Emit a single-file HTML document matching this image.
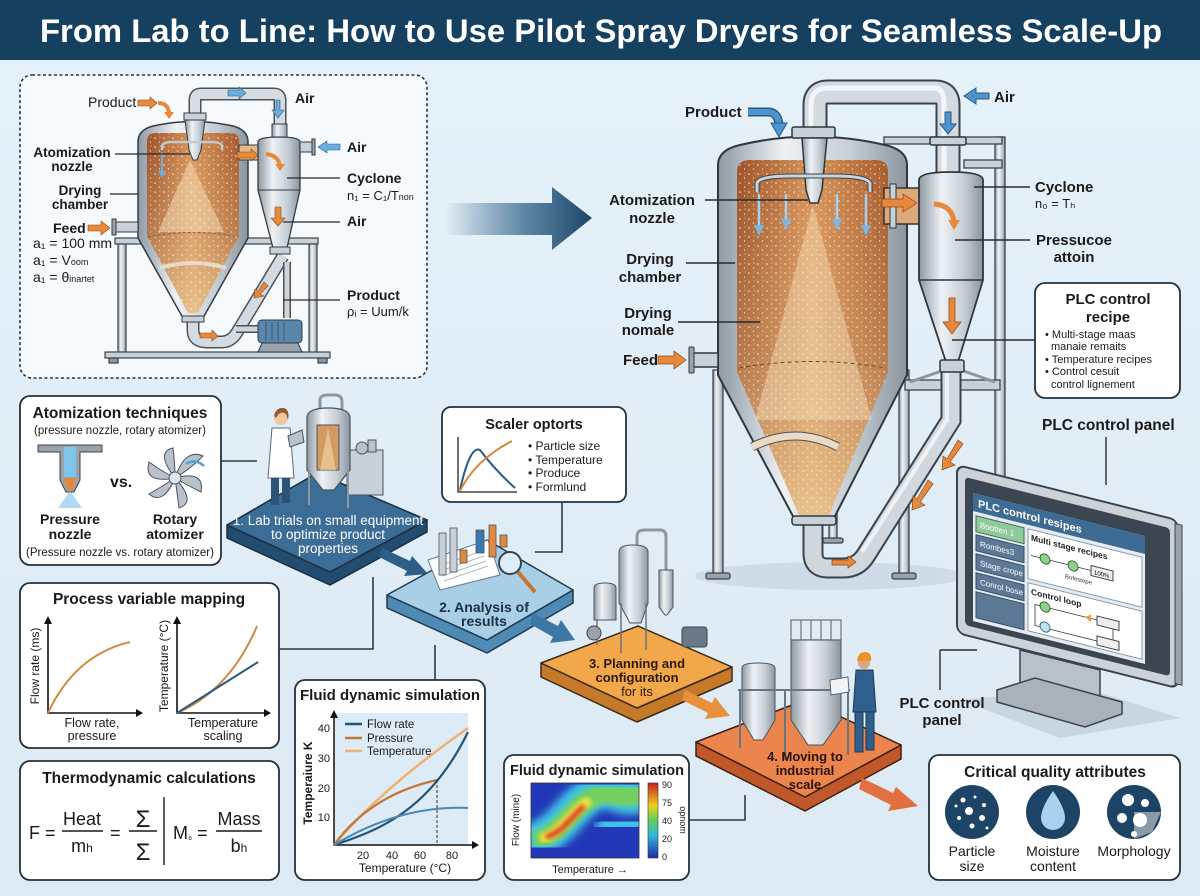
<!DOCTYPE html>
<html><head><meta charset="utf-8"><style>
html,body{margin:0;padding:0;background:#e3f0f8;}
svg{display:block;font-family:"Liberation Sans",Arial,sans-serif;}
</style></head><body>
<svg width="1200" height="896" viewBox="0 0 1200 896" xmlns="http://www.w3.org/2000/svg">
<defs>
 <linearGradient id="bg" x1="0" y1="0" x2="0" y2="1"><stop offset="0" stop-color="#e6f2fa"/><stop offset="1" stop-color="#dde9f3"/></linearGradient>
 <linearGradient id="metal" x1="0" y1="0" x2="1" y2="0"><stop offset="0" stop-color="#8e99a3"/><stop offset="0.35" stop-color="#eef2f5"/><stop offset="0.7" stop-color="#c6ced5"/><stop offset="1" stop-color="#8b959e"/></linearGradient>
 <linearGradient id="orng" x1="0" y1="0" x2="1" y2="0"><stop offset="0" stop-color="#9c522a"/><stop offset="0.5" stop-color="#d8955a"/><stop offset="1" stop-color="#a65a2c"/></linearGradient>
 <linearGradient id="sandV" x1="0" y1="0" x2="0" y2="1"><stop offset="0" stop-color="#f2d5a8" stop-opacity="0"/><stop offset="0.55" stop-color="#eccb98" stop-opacity="0.3"/><stop offset="1" stop-color="#f0d4a4" stop-opacity="0.7"/></linearGradient>
 <linearGradient id="bigArrow" x1="0" y1="0" x2="1" y2="0"><stop offset="0" stop-color="#2a5a80" stop-opacity="0"/><stop offset="0.55" stop-color="#3a6a90" stop-opacity="0.8"/><stop offset="1" stop-color="#1b4566"/></linearGradient>
 <linearGradient id="cbar" x1="0" y1="0" x2="0" y2="1"><stop offset="0" stop-color="#c81e1e"/><stop offset="0.3" stop-color="#f0d020"/><stop offset="0.5" stop-color="#5ecf5a"/><stop offset="0.7" stop-color="#30b8e0"/><stop offset="1" stop-color="#1c2aa8"/></linearGradient>
 <pattern id="dots" width="9" height="9" patternUnits="userSpaceOnUse"><circle cx="2" cy="3" r="0.8" fill="#fbe8c8"/><circle cx="6.5" cy="7" r="0.6" fill="#fff3dd"/><circle cx="7" cy="2" r="0.5" fill="#f7dcb0"/></pattern>
 <filter id="blur4"><feGaussianBlur stdDeviation="4"/></filter>
 <filter id="blur2"><feGaussianBlur stdDeviation="2"/></filter>
 <clipPath id="hm"><rect x="531" y="783" width="108" height="75"/></clipPath>
</defs>

<rect width="1200" height="896" fill="url(#bg)"/>
<!-- TITLE -->
<rect width="1200" height="60" fill="#15405f"/>
<text x="601" y="42" text-anchor="middle" font-size="32" font-weight="bold" fill="#ffffff" textLength="1122" lengthAdjust="spacingAndGlyphs">From Lab to Line: How to Use Pilot Spray Dryers for Seamless Scale-Up</text>

<!-- TOP-LEFT BOX -->
<rect x="20" y="75" width="407" height="303" rx="12" fill="#f6fafd" stroke="#2b3440" stroke-width="1.6" stroke-dasharray="3 2.5"/>
<g stroke="#3a434c" stroke-width="1.2">
 <rect x="115" y="238" width="203" height="6" fill="#c9d1d8"/>
 <rect x="118" y="244" width="8" height="109" fill="url(#metal)"/>
 <rect x="309" y="244" width="8" height="109" fill="url(#metal)"/>
 <rect x="105" y="352" width="225" height="6" fill="#c9d1d8"/>
 <rect x="109" y="358" width="9" height="5" fill="#8d979f"/>
 <rect x="318" y="358" width="9" height="5" fill="#8d979f"/>
</g>
<!-- small pipes -->
<path d="M195 116 L195 100 Q195 94 201 94 L274 94 Q280 94 280 100 L280 127" fill="none" stroke="#4a535c" stroke-width="13"/>
<path d="M195 116 L195 100 Q195 94 201 94 L274 94 Q280 94 280 100 L280 127" fill="none" stroke="#d5dce2" stroke-width="10"/>
<path d="M193 320 L193 330 Q193 342 207 342 L222 342 Q230 342 236 334 L283 256" fill="none" stroke="#4a535c" stroke-width="13"/>
<path d="M193 320 L193 330 Q193 342 207 342 L222 342 Q230 342 236 334 L283 256" fill="none" stroke="#d3dae0" stroke-width="10"/>
<path d="M236 329 L262 329" stroke="#4a535c" stroke-width="8"/><path d="M236 329 L262 329" stroke="#cdd4da" stroke-width="5"/>
<path d="M287 318 L287 262" stroke="#4a535c" stroke-width="8"/><path d="M287 318 L287 262" stroke="#cdd4da" stroke-width="5"/>
<!-- small chamber -->
<path d="M138 142 Q138 128 158 125 Q193 118 228 125 Q248 128 248 142 L248 238 L203 318 L183 318 L138 238 Z" fill="url(#metal)" stroke="#333c45" stroke-width="1.5"/>
<path d="M147 141 Q147 133 156 133 L230 133 Q239 133 239 141 L239 236 L198 313 L188 313 L147 236 Z" fill="url(#orng)"/>
<path d="M147 141 Q147 133 156 133 L230 133 Q239 133 239 141 L239 236 L198 313 L188 313 L147 236 Z" fill="url(#sandV)"/>
<polygon points="190,160 158,232 224,232" fill="#fbe6c4" opacity="0.45"/>
<path d="M147 141 Q147 133 156 133 L230 133 Q239 133 239 141 L239 236 L198 313 L188 313 L147 236 Z" fill="url(#dots)"/>
<path d="M148 237 Q193 228 238 237" fill="none" stroke="#7a5535" stroke-width="0.8" stroke-dasharray="3 2"/>
<path d="M160 268 Q193 258 226 268" fill="none" stroke="#e6dccb" stroke-width="4"/>
<rect x="182" y="316" width="22" height="6" fill="#c9d1d8" stroke="#333c45"/>
<rect x="184" y="113" width="22" height="7" fill="#c9d1d8" stroke="#333c45"/>
<polygon points="185,120 205,120 201,150 197,160 193,160 189,150" fill="url(#metal)" stroke="#333c45"/>
<path d="M162 150 L162 146 Q163 142 172 142 L212 142 Q221 142 222 146 L222 150" fill="none" stroke="#c2cad1" stroke-width="2.5"/>
<line x1="162" y1="152" x2="162" y2="172" stroke="#6aaee0" stroke-width="2"/><polygon points="158,171 166,171 162,178" fill="#6aaee0"/>
<!-- small duct + cyclone -->
<rect x="239" y="145" width="24" height="15" fill="#e3b98a" stroke="#333c45"/>
<rect x="272" y="124" width="15" height="15" fill="url(#metal)" stroke="#333c45"/>
<path d="M258 142 Q258 137 279 137 Q300 137 300 142 L300 190 L287 248 L273 248 L258 190 Z" fill="url(#metal)" stroke="#333c45" stroke-width="1.3"/>
<line x1="258" y1="190" x2="300" y2="190" stroke="#333c45"/>
<rect x="270" y="247" width="20" height="7" fill="#c9d1d8" stroke="#333c45"/>
<rect x="300" y="142" width="12" height="10" fill="#c9d1d8" stroke="#333c45"/><rect x="312" y="139" width="3" height="16" fill="#9aa3ab" stroke="#333c45"/>
<!-- pump -->
<rect x="258" y="320" width="44" height="23" rx="4" fill="#5b86ab" stroke="#2b3a4a"/>
<g stroke="#38597a" stroke-width="1"><line x1="266" y1="322" x2="266" y2="341"/><line x1="272" y1="322" x2="272" y2="341"/><line x1="278" y1="322" x2="278" y2="341"/><line x1="284" y1="322" x2="284" y2="341"/></g>
<polygon points="262,343 298,343 302,352 258,352" fill="#9aa3ab" stroke="#333c45"/>
<!-- small arrows -->
<g fill="#e8883a" stroke="#8a4a1a" stroke-width="0.6">
 <polygon points="138,100 150,100 150,97 157,103 150,109 150,106 138,106"/>
 <polygon points="237,152 251,152 251,149 258,155 251,161 251,158 237,158"/>
 <polygon points="88,225 101,225 101,221 110,228 101,235 101,231 88,231"/>
 <polygon points="275,207 281,207 281,218 285,218 278,226 271,218 275,218"/>
 <polygon points="264,282 268,286 260,294 264,296 254,298 255,289 258,291"/>
 <polygon points="200,333 212,333 212,330 218,336 212,341 212,338 200,338"/>
</g>
<path d="M158 103 Q168 103 169 113" fill="none" stroke="#e8883a" stroke-width="4"/><polygon points="164,112 174,112 169,119" fill="#e8883a"/>
<path d="M266 154 Q278 155 280 166" fill="none" stroke="#e8883a" stroke-width="4"/><polygon points="275,164 285,164 280,171" fill="#e8883a"/>
<g fill="#6aaee0" stroke="#2b5a80" stroke-width="0.6">
 <polygon points="228,90 239,90 239,87 246,93 239,99 239,96 228,96"/>
 <polygon points="340,144 327,144 327,141 318,147 327,153 327,150 340,150"/>
 <polygon points="276,100 280,100 280,110 284,110 278,118 272,110 276,110"/>
</g>
<!-- small labels -->
<g fill="#1a1a1a" font-size="14">
 <text x="88" y="107">Product</text>
 <text x="295" y="103" font-weight="bold">Air</text>
 <text x="72" y="157" font-weight="bold" text-anchor="middle" font-size="13.5">Atomization</text>
 <text x="72" y="171" font-weight="bold" text-anchor="middle" font-size="13.5">nozzle</text>
 <text x="80" y="195" font-weight="bold" text-anchor="middle" font-size="13.5">Drying</text>
 <text x="80" y="209" font-weight="bold" text-anchor="middle" font-size="13.5">chamber</text>
 <text x="53" y="233" font-weight="bold">Feed</text>
 <text x="33" y="248">a₁ = 100 mm</text>
 <text x="33" y="265">a₁ = V<tspan font-size="9">oom</tspan></text>
 <text x="33" y="282">a₁ = θ<tspan font-size="9">inartet</tspan></text>
 <text x="347" y="152" font-weight="bold">Air</text>
 <text x="347" y="183" font-weight="bold">Cyclone</text>
 <text x="347" y="200" font-size="13">n₁ = C₁/T<tspan font-size="9">non</tspan></text>
 <text x="347" y="226" font-weight="bold">Air</text>
 <text x="347" y="300" font-weight="bold">Product</text>
 <text x="347" y="316" font-size="13">ρᵢ = Uum/k</text>
</g>
<g stroke="#2a2a2a" stroke-width="1.3">
 <line x1="115" y1="154" x2="190" y2="154"/>
 <line x1="110" y1="194" x2="138" y2="194"/>
 <line x1="287" y1="178" x2="340" y2="178"/>
 <line x1="283" y1="222" x2="340" y2="222"/>
 <line x1="283" y1="300" x2="340" y2="300"/>
</g>
<rect x="115" y="222" width="23" height="10" fill="#c9d1d8" stroke="#333c45"/><rect x="112" y="219" width="4" height="16" fill="#9aa3ab" stroke="#333c45"/>

<!-- BIG ARROW -->
<polygon points="445,203 552,203 552,187 592,218 552,250 552,235 445,235" fill="url(#bigArrow)"/>

<!-- BIG DRYER -->
<ellipse cx="830" cy="576" rx="135" ry="14" fill="#cddce8"/>
<g stroke="#3a434c" stroke-width="1.3">
 <rect x="713" y="370" width="10" height="206" fill="url(#metal)"/>
 <rect x="899" y="370" width="10" height="206" fill="url(#metal)"/>
 <rect x="995" y="137" width="10" height="439" fill="url(#metal)"/>
 <rect x="829" y="495" width="8" height="45" fill="url(#metal)"/>
 <rect x="884" y="137" width="118" height="7" fill="#c9d1d8"/>
 <rect x="964" y="160" width="38" height="8" fill="#c9d1d8"/>
 <rect x="905" y="380" width="95" height="10" fill="#c9d1d8"/>
 <rect x="706" y="573" width="24" height="6" rx="2" fill="#9aa3ab"/>
 <rect x="892" y="573" width="24" height="6" rx="2" fill="#9aa3ab"/>
 <rect x="988" y="573" width="24" height="6" rx="2" fill="#9aa3ab"/>
 <rect x="823" y="538" width="20" height="5" rx="2" fill="#9aa3ab"/>
</g>
<line x1="910" y1="382" x2="950" y2="368" stroke="#8d979f" stroke-width="3"/>
<line x1="995" y1="382" x2="955" y2="368" stroke="#8d979f" stroke-width="3"/>
<!-- big pipes -->
<path d="M815 130 L815 105 Q815 92 828 92 L935 92 Q948 92 948 105 L948 172" fill="none" stroke="#3a434c" stroke-width="25"/>
<path d="M815 130 L815 105 Q815 92 828 92 L935 92 Q948 92 948 105 L948 172" fill="none" stroke="#d3dae0" stroke-width="21"/>
<path d="M811 130 L811 105 Q811 88 828 88 L935 88 Q944 88 944 105 L944 172" fill="none" stroke="#f3f6f8" stroke-width="5"/>
<path d="M951 372 L951 420 L866 555 Q858 568 843 568 L828 568 Q813 568 813 553 L813 520" fill="none" stroke="#3a434c" stroke-width="21"/>
<path d="M951 372 L951 420 L866 555 Q858 568 843 568 L828 568 Q813 568 813 553 L813 520" fill="none" stroke="#d0d7dd" stroke-width="17"/>
<path d="M947 372 L947 420 L862 552" fill="none" stroke="#eef2f5" stroke-width="4"/>
<!-- chamber -->
<path d="M718 165 Q718 150 740 145 Q812 128 885 145 Q907 150 907 165 L907 375 L833 520 L795 520 L718 375 Z" fill="url(#metal)" stroke="#2e363e" stroke-width="2"/>
<path d="M737 172 Q737 160 750 160 L876 160 Q888 160 888 172 L888 372 L829 515 L799 515 L737 372 Z" fill="url(#orng)"/>
<path d="M737 172 Q737 160 750 160 L876 160 Q888 160 888 172 L888 372 L829 515 L799 515 L737 372 Z" fill="url(#sandV)"/>
<polygon points="813,205 755,420 872,420" fill="#fbe6c4" opacity="0.4"/>
<path d="M737 172 Q737 160 750 160 L876 160 Q888 160 888 172 L888 372 L829 515 L799 515 L737 372 Z" fill="url(#dots)"/>
<path d="M739 368 Q812 355 886 368" fill="none" stroke="#6a4a30" stroke-width="1" stroke-dasharray="4 3"/>
<path d="M752 447 Q795 425 838 447" fill="none" stroke="#5a5048" stroke-width="9"/>
<path d="M752 447 Q795 425 838 447" fill="none" stroke="#e8dcc8" stroke-width="7"/>
<rect x="792" y="516" width="44" height="9" rx="3" fill="#c9d1d8" stroke="#2e363e" stroke-width="1.5"/>
<!-- nozzle -->
<rect x="792" y="127" width="43" height="11" rx="2" fill="#c9d1d8" stroke="#2e363e" stroke-width="1.5"/>
<polygon points="802,138 827,138 822,190 818,203 810,203 806,190" fill="url(#metal)" stroke="#2e363e" stroke-width="1.5"/>
<path d="M757 192 L757 183 Q760 176 790 176 L835 176 Q866 176 870 183 L870 192" fill="none" stroke="#3a434c" stroke-width="5"/>
<path d="M757 192 L757 183 Q760 176 790 176 L835 176 Q866 176 870 183 L870 192" fill="none" stroke="#cdd5db" stroke-width="3"/>
<g stroke="#a8d0ec" stroke-width="2.5" fill="#a8d0ec">
 <line x1="759" y1="194" x2="759" y2="226"/><line x1="786" y1="194" x2="786" y2="220"/><line x1="837" y1="194" x2="837" y2="220"/><line x1="866" y1="194" x2="866" y2="226"/>
</g>
<g fill="#7cb6e0"><polygon points="754,225 764,225 759,236"/><polygon points="781,219 791,219 786,230"/><polygon points="832,219 842,219 837,230"/><polygon points="861,225 871,225 866,236"/></g>
<!-- duct + cyclone -->
<rect x="884" y="188" width="50" height="36" fill="#dcaa7a" stroke="#2e363e" stroke-width="1.5"/>
<rect x="890" y="184" width="6" height="44" fill="#c9d1d8" stroke="#2e363e"/>
<rect x="930" y="137" width="36" height="8" rx="2" fill="#c9d1d8" stroke="#2e363e" stroke-width="1.5"/>
<path d="M919 180 Q919 172 951 172 Q983 172 983 180 L983 280 L958 362 L946 362 L919 280 Z" fill="url(#metal)" stroke="#2e363e" stroke-width="1.8"/>
<line x1="919" y1="280" x2="983" y2="280" stroke="#2e363e" stroke-width="1.5"/>
<rect x="940" y="360" width="24" height="12" rx="2" fill="#c9d1d8" stroke="#2e363e" stroke-width="1.5"/>
<!-- big orange arrows -->
<g fill="#e8883a" stroke="#8a4a1a" stroke-width="0.7">
 <polygon points="882,199 903,199 903,194 917,203 903,212 903,207 882,207"/>
 <polygon points="658,356 674,356 674,351 686,360 674,369 674,364 658,364"/>
 <polygon points="949,298 955,298 955,322 961,322 952,334 943,322 949,322"/>
 <polygon points="958,440 963,444 950,462 955,465 942,470 943,456 947,459"/>
 <polygon points="928,480 933,484 920,502 925,505 912,510 913,496 917,499"/>
 <polygon points="832,560 848,560 848,556 856,562 848,568 848,565 832,565"/>
</g>
<path d="M934 204 Q952 205 954 222" fill="none" stroke="#e8883a" stroke-width="5"/><polygon points="948,220 960,220 954,230" fill="#e8883a"/>
<!-- blue arrows big -->
<path d="M748 112 L768 112 Q778 112 779 125" fill="none" stroke="#2b5a80" stroke-width="9"/>
<path d="M748 112 L768 112 Q778 112 779 125" fill="none" stroke="#4d95cf" stroke-width="6"/>
<polygon points="771,123 787,123 779,137" fill="#4d95cf" stroke="#2b5a80"/>
<polygon points="989,93 976,93 976,88 964,96 976,104 976,99 989,99" fill="#4d95cf" stroke="#2b5a80"/>
<polygon points="945,112 951,112 951,124 956,124 948,134 940,124 945,124" fill="#4d95cf" stroke="#2b5a80"/>
<!-- feed pipe -->
<rect x="693" y="353" width="25" height="14" fill="#c9d1d8" stroke="#2e363e" stroke-width="1.5"/>
<rect x="689" y="347" width="5" height="26" rx="1" fill="#9aa3ab" stroke="#2e363e"/>
<!-- big labels -->
<g fill="#1a1a1a" font-weight="bold" font-size="15">
 <text x="685" y="117">Product</text>
 <text x="994" y="102">Air</text>
 <text x="652" y="205" text-anchor="middle">Atomization</text>
 <text x="652" y="223" text-anchor="middle">nozzle</text>
 <text x="650" y="264" text-anchor="middle">Drying</text>
 <text x="650" y="282" text-anchor="middle">chamber</text>
 <text x="648" y="318" text-anchor="middle">Drying</text>
 <text x="648" y="335" text-anchor="middle">nomale</text>
 <text x="623" y="365">Feed</text>
 <text x="1035" y="192">Cyclone</text>
 <text x="1074" y="245" text-anchor="middle">Pressucoe</text>
 <text x="1074" y="262" text-anchor="middle">attoin</text>
 <text x="1042" y="430" font-size="15.5">PLC control panel</text>
</g>
<text x="1035" y="208" font-size="13" fill="#1a1a1a">n₀ = Tₕ</text>
<g stroke="#2a2a2a" stroke-width="1.4">
 <line x1="705" y1="200" x2="808" y2="200"/>
 <line x1="686" y1="263" x2="735" y2="263"/>
 <line x1="678" y1="322" x2="760" y2="322"/>
 <line x1="974" y1="187" x2="1030" y2="187"/>
 <line x1="955" y1="240" x2="1030" y2="240"/>
 <line x1="952" y1="340" x2="1035" y2="340"/>
 <line x1="1106" y1="437" x2="1106" y2="485"/>
 <line x1="940" y1="690" x2="940" y2="650"/><line x1="940" y1="650" x2="977" y2="650"/>
</g>
<!-- PLC recipe box -->
<rect x="1035" y="283" width="145" height="115" rx="10" fill="#ffffff" stroke="#23313f" stroke-width="1.8"/>
<text x="1108" y="304" text-anchor="middle" font-size="15" font-weight="bold" fill="#1a1a1a">PLC control</text>
<text x="1108" y="322" text-anchor="middle" font-size="15" font-weight="bold" fill="#1a1a1a">recipe</text>
<g font-size="11" fill="#1a1a1a">
 <text x="1045" y="338">• Multi-stage maas</text>
 <text x="1051" y="350">manaie remaits</text>
 <text x="1045" y="363">• Temperature recipes</text>
 <text x="1045" y="375">• Control cesuit</text>
 <text x="1051" y="388">control lignement</text>
</g>

<!-- MONITOR -->
<polygon points="960,700 1060,738 1180,718 1085,688" fill="#c8d6e1"/>
<polygon points="1020,650 1100,670 1100,702 1020,684" fill="#b9c1c8" stroke="#3a434c" stroke-width="1.5"/>
<polygon points="997,690 1035,678 1122,702 1122,714 1085,727 997,702" fill="#a9b2ba" stroke="#3a434c" stroke-width="1.5"/>
<g transform="matrix(1 0.25 0 1 957 465)">
 <rect x="0" y="0" width="221" height="168" rx="8" fill="#cbd2d8" stroke="#3a434c" stroke-width="2"/>
 <rect x="218" y="4" width="7" height="160" fill="#9aa3ab" stroke="#3a434c" stroke-width="1"/>
 <rect x="8" y="10" width="205" height="148" rx="4" fill="#3b4651"/>
 <g transform="translate(16,24)">
  <rect width="172" height="128" fill="#e4ebf1"/>
  <rect width="172" height="18" fill="#3d6b93"/>
  <text x="5" y="13" font-size="11" fill="#ffffff" font-weight="bold">PLC control resipes</text>
  <rect x="3" y="22" width="48" height="16" fill="#8fca9c" stroke="#4a6a50"/>
  <text x="7" y="33" font-size="8" fill="#ffffff">Bootten 1</text>
  <rect x="3" y="41" width="48" height="16" fill="#5b7894" stroke="#34506a"/>
  <text x="7" y="52" font-size="8" fill="#ffffff">Rombes3</text>
  <rect x="3" y="60" width="48" height="16" fill="#5b7894" stroke="#34506a"/>
  <text x="7" y="71" font-size="8" fill="#ffffff">Stage crope</text>
  <rect x="3" y="79" width="48" height="16" fill="#5b7894" stroke="#34506a"/>
  <text x="7" y="90" font-size="8" fill="#ffffff">Conrol bose</text>
  <rect x="3" y="98" width="48" height="26" fill="#5b7894" stroke="#34506a"/>
  <rect x="55" y="22" width="114" height="50" fill="#ffffff" stroke="#8899aa"/>
  <text x="58" y="33" font-size="8.5" font-weight="bold" fill="#222">Multi stage recipes</text>
  <line x1="58" y1="48" x2="140" y2="48" stroke="#333" stroke-width="0.8"/>
  <circle cx="72" cy="48" r="5" fill="#8fd08a" stroke="#3a6a3a"/><circle cx="100" cy="48" r="5" fill="#8fd08a" stroke="#3a6a3a"/>
  <rect x="118" y="43" width="22" height="10" fill="#eeeeee" stroke="#444"/><text x="121" y="51" font-size="6">100%</text>
  <text x="92" y="62" font-size="6" fill="#333">Bofestepe</text>
  <rect x="55" y="76" width="114" height="48" fill="#ffffff" stroke="#8899aa"/>
  <text x="58" y="87" font-size="8.5" font-weight="bold" fill="#222">Control loop</text>
  <path d="M62 96 L140 96 L140 117 L62 117 Z" fill="none" stroke="#333" stroke-width="0.8"/>
  <circle cx="72" cy="96" r="5" fill="#8fd08a" stroke="#3a6a3a"/><circle cx="72" cy="116" r="5" fill="#bfe0ea" stroke="#3a6a8a"/>
  <polygon points="112,96 118,92 118,100" fill="#e8a040"/>
  <rect x="124" y="92" width="22" height="9" fill="#eeeeee" stroke="#444"/><rect x="124" y="112" width="22" height="9" fill="#eeeeee" stroke="#444"/>
 </g>
</g>
<text x="942" y="708" text-anchor="middle" font-size="15" font-weight="bold" fill="#1a1a1a">PLC control</text>
<text x="942" y="725" text-anchor="middle" font-size="15" font-weight="bold" fill="#1a1a1a">panel</text>

<!-- ATOMIZATION BOX -->
<rect x="20" y="396" width="201" height="169" rx="10" fill="#ffffff" stroke="#23313f" stroke-width="1.8"/>
<text x="120" y="418" text-anchor="middle" font-size="15.5" font-weight="bold" fill="#1a1a1a">Atomization techniques</text>
<text x="120" y="434" text-anchor="middle" font-size="11.5" fill="#1a1a1a">(pressure nozzle, rotary atomizer)</text>
<polygon points="38,445 102,445 102,452 80,452 80,480 74,492 66,492 60,480 60,452 38,452" fill="#9aa3ab" stroke="#3a434c"/>
<rect x="64" y="447" width="12" height="30" fill="#7fc4ea"/>
<polygon points="64,478 76,478 73,490 67,490" fill="#e08a40"/>
<polygon points="70,491 58,508 82,508" fill="#8ecbf0" opacity="0.7"/>
<text x="110" y="487" font-size="16" font-weight="bold" fill="#1a1a1a">vs.</text>
<g transform="translate(175,478)" fill="#b9c2ca" stroke="#4a535c" stroke-width="1">
 <path d="M0 0 Q10 -30 28 -22 Q14 -8 0 0Z"/>
 <path d="M0 0 Q30 -8 26 14 Q10 6 0 0Z"/>
 <path d="M0 0 Q22 24 4 30 Q2 14 0 0Z"/>
 <path d="M0 0 Q-12 28 -26 16 Q-12 8 0 0Z"/>
 <path d="M0 0 Q-32 6 -26 -16 Q-12 -6 0 0Z"/>
 <path d="M0 0 Q-20 -26 -2 -30 Q0 -14 0 0Z"/>
 <circle r="6" fill="#dfe5ea"/>
</g>
<path d="M186 464 Q195 458 204 466" fill="none" stroke="#5aa0d0" stroke-width="2.5"/>
<g font-size="14" font-weight="bold" fill="#1a1a1a" text-anchor="middle">
 <text x="70" y="524">Pressure</text><text x="70" y="539">nozzle</text>
 <text x="175" y="524">Rotary</text><text x="175" y="539">atomizer</text>
</g>
<text x="120" y="556" text-anchor="middle" font-size="11.5" fill="#1a1a1a">(Pressure nozzle vs. rotary atomizer)</text>

<!-- PROCESS VARIABLE MAPPING -->
<rect x="20" y="583" width="259" height="165" rx="10" fill="#ffffff" stroke="#23313f" stroke-width="1.8"/>
<text x="149" y="604" text-anchor="middle" font-size="15.5" font-weight="bold" fill="#1a1a1a">Process variable mapping</text>
<g stroke="#111" stroke-width="1.6" fill="none">
 <path d="M48 622 L48 713 L137 713"/><path d="M177 622 L177 713 L265 713"/>
</g>
<g fill="#111"><polygon points="44,624 52,624 48,616"/><polygon points="136,709 136,717 143,713"/><polygon points="173,624 181,624 177,616"/><polygon points="264,709 264,717 271,713"/></g>
<path d="M48 713 Q75 655 130 642" fill="none" stroke="#d08a40" stroke-width="2"/>
<path d="M177 713 Q230 690 257 626" fill="none" stroke="#d08a40" stroke-width="2"/>
<path d="M177 713 L258 662" fill="none" stroke="#2a5a80" stroke-width="2"/>
<text transform="translate(39,666) rotate(-90)" text-anchor="middle" font-size="12" fill="#1a1a1a">Flow rate (ms)</text>
<text transform="translate(168,666) rotate(-90)" text-anchor="middle" font-size="12" fill="#1a1a1a">Temperature (°C)</text>
<g font-size="12.5" fill="#1a1a1a" text-anchor="middle">
 <text x="92" y="727">Flow rate,</text><text x="92" y="740">pressure</text>
 <text x="223" y="727">Temperature</text><text x="223" y="740">scaling</text>
</g>

<!-- THERMO -->
<rect x="20" y="761" width="259" height="119" rx="10" fill="#ffffff" stroke="#23313f" stroke-width="1.8"/>
<text x="149" y="783" text-anchor="middle" font-size="15.5" font-weight="bold" fill="#1a1a1a">Thermodynamic calculations</text>
<g fill="#1a1a1a" font-size="18">
 <text x="29" y="839">F =</text>
 <text x="82" y="825" text-anchor="middle">Heat</text>
 <text x="82" y="852" text-anchor="middle">m<tspan font-size="12">h</tspan></text>
 <text x="110" y="839">=</text>
 <text x="143" y="827" text-anchor="middle" font-size="24">Σ</text>
 <text x="143" y="860" text-anchor="middle" font-size="24">Σ</text>
 <text x="173" y="839">M<tspan font-size="10">₈</tspan> =</text>
 <text x="239" y="825" text-anchor="middle">Mass</text>
 <text x="239" y="852" text-anchor="middle">b<tspan font-size="12">h</tspan></text>
</g>
<g stroke="#1a1a1a" stroke-width="1.4"><line x1="62" y1="831" x2="103" y2="831"/><line x1="129" y1="831" x2="157" y2="831"/><line x1="164" y1="797" x2="164" y2="865"/><line x1="216" y1="831" x2="262" y2="831"/></g>

<!-- FLUID SIM 1 -->
<rect x="295" y="680" width="190" height="200" rx="10" fill="#ffffff" stroke="#23313f" stroke-width="1.8"/>
<text x="390" y="700" text-anchor="middle" font-size="15" font-weight="bold" fill="#1a1a1a">Fluid dynamic simulation</text>
<rect x="334" y="713" width="134" height="132" fill="#dcebf5"/>
<g stroke="#111" stroke-width="1.5" fill="none"><path d="M334 716 L334 845 L473 845"/></g>
<polygon points="330,718 338,718 334,710" fill="#111"/><polygon points="472,841 472,849 479,845" fill="#111"/>
<g font-size="11" fill="#1a1a1a" text-anchor="end"><text x="330" y="732">40</text><text x="330" y="762">30</text><text x="330" y="792">20</text><text x="330" y="821">10</text></g>
<g font-size="11" fill="#1a1a1a" text-anchor="middle"><text x="363" y="859">20</text><text x="392" y="859">40</text><text x="420" y="859">60</text><text x="452" y="859">80</text></g>
<text x="405" y="872" text-anchor="middle" font-size="12" fill="#1a1a1a">Temperature (°C)</text>
<text transform="translate(312,783) rotate(-90)" text-anchor="middle" font-size="12" font-weight="bold" fill="#1a1a1a">Temperaiure K</text>
<path d="M334 845 Q380 790 468 728" fill="none" stroke="#f0b070" stroke-width="2.5"/>
<path d="M334 845 Q370 795 437 780" fill="none" stroke="#c2773a" stroke-width="2.2"/>
<path d="M334 845 C380 830 430 810 468 732" fill="none" stroke="#255579" stroke-width="2.2"/>
<path d="M334 845 Q400 805 468 808" fill="none" stroke="#4a88b0" stroke-width="2"/>
<line x1="437" y1="780" x2="437" y2="845" stroke="#333" stroke-width="1" stroke-dasharray="3 2"/>
<g stroke-width="2.5"><line x1="345" y1="724" x2="362" y2="724" stroke="#255579"/><line x1="345" y1="738" x2="362" y2="738" stroke="#c2773a"/><line x1="345" y1="751" x2="362" y2="751" stroke="#f0b070"/></g>
<g font-size="11.5" fill="#1a1a1a"><text x="367" y="728">Flow rate</text><text x="367" y="742">Pressure</text><text x="367" y="755">Temperature</text></g>

<!-- SCALER BOX -->
<rect x="442" y="407" width="184" height="95" rx="9" fill="#ffffff" stroke="#23313f" stroke-width="1.8"/>
<text x="534" y="429" text-anchor="middle" font-size="14.5" font-weight="bold" fill="#1a1a1a">Scaler optorts</text>
<path d="M458 437 L458 492 L517 492" fill="none" stroke="#222" stroke-width="1.3"/>
<path d="M460 490 Q470 445 480 450 Q495 470 515 488" fill="none" stroke="#2a5a80" stroke-width="2"/>
<path d="M460 491 Q475 460 512 441" fill="none" stroke="#d08a40" stroke-width="2"/>
<g font-size="12" fill="#1a1a1a"><text x="528" y="450">• Particle size</text><text x="528" y="464">• Temperature</text><text x="528" y="477">• Produce</text><text x="528" y="491">• Formlund</text></g>

<!-- connectors -->
<g stroke="#2a3a4a" stroke-width="1.6" fill="none">
 <path d="M222 461 L257 461"/>
 <path d="M279 649 L373 649 L373 577"/>
 <path d="M562 502 L562 552 L535 552"/>
 <path d="M435 680 L435 645"/>
 <path d="M689 820 L745 820 L745 795"/>
</g>

<!-- STEP 1 -->
<polygon points="227,525 330,572 427,520 427,532 330,585 227,538" fill="#234d70" stroke="#1a2e44" stroke-width="1.5" stroke-linejoin="round"/>
<polygon points="227,525 317,473 427,520 330,572" fill="#3b6d96" stroke="#1a2e44" stroke-width="1.5" stroke-linejoin="round"/>
<rect x="347" y="450" width="36" height="45" fill="#c9d1d8" stroke="#4a535c"/>
<circle cx="362" cy="448" r="6" fill="#b9c2ca" stroke="#4a535c"/><rect x="368" y="440" width="8" height="12" fill="#b9c2ca" stroke="#4a535c"/>
<path d="M320 412 L320 400 Q320 395 328 395 L335 395 Q342 395 342 402 L342 440" fill="none" stroke="#8d979f" stroke-width="3"/>
<path d="M307 418 Q307 408 328 408 Q350 408 350 418 L350 470 L334 490 L323 490 L307 470 Z" fill="url(#metal)" stroke="#4a535c" stroke-width="1.2"/>
<rect x="317" y="425" width="22" height="45" fill="#d29a62" stroke="#4a535c"/>
<polygon points="328,428 320,470 336,470" fill="#f0d0a0" opacity="0.7"/>
<g stroke="#8d979f" stroke-width="2"><line x1="309" y1="470" x2="309" y2="505"/><line x1="348" y1="470" x2="348" y2="508"/></g>
<circle cx="281" cy="418" r="7" fill="#f0c8a0"/><path d="M274 416 Q276 407 284 408 Q290 410 288 420 L286 414 Q280 410 276 418Z" fill="#9a5a30"/>
<polygon points="272,428 290,428 294,478 268,478" fill="#ffffff" stroke="#5a6a7a"/>
<rect x="271" y="478" width="8" height="27" fill="#2d5478"/><rect x="282" y="478" width="8" height="25" fill="#2d5478"/>
<polygon points="288,436 302,430 304,442 290,447" fill="#b9c2ca" stroke="#4a535c"/>
<g font-size="13.5" fill="#ffffff" text-anchor="middle"><text x="328" y="525">1. Lab trials on small equipment</text><text x="328" y="539">to optimize product</text><text x="328" y="553">properties</text></g>
<polygon points="382,548 410,561 412,556 428,574 404,576 407,571 379,557" fill="#2d5e88"/>

<!-- STEP 2 -->
<polygon points="387,595 487,640 573,590 573,603 487,653 387,608" fill="#4f8ab5" stroke="#1f3a52" stroke-width="1.5" stroke-linejoin="round"/>
<polygon points="387,595 487,540 573,590 487,640" fill="#a8cfe6" stroke="#1f3a52" stroke-width="1.5" stroke-linejoin="round"/>
<polygon points="428,560 488,540 500,575 440,590" fill="#ffffff" stroke="#6a7a8a"/>
<g stroke="#9aa6b0" stroke-width="0.8"><line x1="438" y1="566" x2="482" y2="551"/><line x1="440" y1="571" x2="484" y2="556"/><line x1="442" y1="576" x2="486" y2="561"/><line x1="444" y1="581" x2="488" y2="566"/></g>
<g stroke="#4a535c" stroke-width="0.8">
 <rect x="439" y="533" width="7" height="42" fill="#c9d1d8"/><rect x="450" y="528" width="7" height="44" fill="#c9d1d8"/>
 <rect x="460" y="550" width="7" height="13" fill="#e08a40"/><rect x="476" y="530" width="8" height="23" fill="#3a78b0"/>
 <rect x="489" y="525" width="7" height="32" fill="#e08a40"/><rect x="500" y="535" width="7" height="12" fill="#e08a40"/>
</g>
<line x1="518" y1="572" x2="535" y2="592" stroke="#c8742a" stroke-width="4"/>
<circle cx="510" cy="563" r="11" fill="#dceefa" stroke="#3a434c" stroke-width="2"/>
<g font-size="14" fill="#1c2f45" text-anchor="middle" font-weight="bold"><text x="484" y="612">2. Analysis of</text><text x="484" y="626">results</text></g>
<polygon points="533,613 558,626 561,620 575,640 550,643 553,637 530,624" fill="#3c77a6"/>

<!-- STEP 3 -->
<polygon points="541,663 637,708 732,667 732,681 637,722 541,677" fill="#c47a28" stroke="#3a2a1a" stroke-width="1.5" stroke-linejoin="round"/>
<polygon points="541,663 638,626 732,667 637,708" fill="#f2a84a" stroke="#3a2a1a" stroke-width="1.5" stroke-linejoin="round"/>
<path d="M637 547 L637 536 Q637 530 645 530 L660 530 Q666 530 666 537 L666 570" fill="none" stroke="#8d979f" stroke-width="3"/>
<path d="M619 552 Q619 545 633 545 Q648 545 648 552 L648 603 L641 623 L630 623 L619 603 Z" fill="url(#metal)" stroke="#4a535c"/>
<path d="M659 570 L673 570 L673 607 L667 615 L665 615 L659 607 Z" fill="url(#metal)" stroke="#4a535c"/>
<path d="M594 588 Q594 583 605 583 Q616 583 616 588 L616 620 L594 620 Z" fill="url(#metal)" stroke="#4a535c"/>
<g stroke="#6a747d" stroke-width="1.5"><line x1="621" y1="603" x2="621" y2="653"/><line x1="646" y1="603" x2="646" y2="650"/><line x1="597" y1="620" x2="597" y2="645"/></g>
<rect x="682" y="627" width="25" height="20" rx="3" fill="#6a7a88" stroke="#3a434c"/>
<circle cx="594" cy="633" r="7" fill="#9aa3ab" stroke="#3a434c"/>
<g font-size="13" fill="#2a1a0a" text-anchor="middle"><text x="637" y="668" font-weight="bold">3. Planning and</text><text x="637" y="682" font-weight="bold">configuration</text><text x="637" y="696">for its</text></g>
<polygon points="685,690 712,703 715,697 730,716 705,719 708,713 682,700" fill="#e8903e"/>

<!-- STEP 4 -->
<polygon points="696,742 805,797 901,745 901,759 805,811 696,756" fill="#c0582a" stroke="#3a2010" stroke-width="1.5" stroke-linejoin="round"/>
<polygon points="696,742 805,700 901,745 805,797" fill="#ec844e" stroke="#3a2010" stroke-width="1.5" stroke-linejoin="round"/>
<g stroke="#6a747d" stroke-width="1.2" fill="none">
 <rect x="791" y="620" width="50" height="20"/><line x1="801" y1="620" x2="801" y2="640"/><line x1="811" y1="620" x2="811" y2="640"/><line x1="821" y1="620" x2="821" y2="640"/><line x1="831" y1="620" x2="831" y2="640"/>
</g>
<path d="M791 640 L841 640 L841 720 L823 745 L808 745 L791 720 Z" fill="url(#metal)" stroke="#4a535c"/>
<path d="M742 668 Q742 663 758 663 Q775 663 775 668 L775 720 L763 740 L754 740 L742 720 Z" fill="url(#metal)" stroke="#4a535c"/>
<g stroke="#6a747d" stroke-width="2"><line x1="738" y1="690" x2="850" y2="690"/><line x1="740" y1="690" x2="740" y2="748"/><line x1="785" y1="690" x2="785" y2="760"/><line x1="848" y1="690" x2="848" y2="755"/></g>
<circle cx="864" cy="663" r="6" fill="#d8a880"/><path d="M857 661 Q858 652 865 652 Q872 652 871 661 Z" fill="#f0902a"/>
<polygon points="856,670 873,670 876,712 853,712" fill="#2f5f8f" stroke="#1f3a52"/>
<rect x="855" y="712" width="8" height="40" fill="#2f5f8f" stroke="#1f3a52"/><rect x="866" y="712" width="8" height="38" fill="#2f5f8f" stroke="#1f3a52"/>
<polygon points="830,680 848,677 849,692 831,695" fill="#eef4f8" stroke="#5a6a7a"/>
<g font-size="13" fill="#2a1208" text-anchor="middle" font-weight="bold"><text x="805" y="761">4. Moving to</text><text x="805" y="775">industrial</text><text x="805" y="789">scale</text></g>
<polygon points="862,778 893,793 896,787 918,806 888,811 891,805 859,789" fill="#e07040"/>

<!-- FLUID SIM 2 -->
<rect x="504" y="755" width="185" height="125" rx="10" fill="#ffffff" stroke="#23313f" stroke-width="1.8"/>
<text x="597" y="775" text-anchor="middle" font-size="14.5" font-weight="bold" fill="#1a1a1a">Fluid dynamic simulation</text>
<rect x="531" y="783" width="108" height="75" fill="#2238b8"/>
<g clip-path="url(#hm)">
 <path d="M525 842 C560 840 572 800 598 792 C615 787 625 806 648 790" fill="none" stroke="#3fc4e4" stroke-width="36" filter="url(#blur4)"/>
 <path d="M598 822 C615 834 630 815 648 826" fill="none" stroke="#3fc4e4" stroke-width="18" filter="url(#blur4)"/>
 <path d="M534 841 C560 837 572 805 598 795 C612 790 622 802 642 792" fill="none" stroke="#72d060" stroke-width="20" filter="url(#blur2)"/>
 <path d="M540 839 C560 835 570 812 590 800" fill="none" stroke="#f0e040" stroke-width="10" filter="url(#blur2)"/>
 <path d="M546 837 C562 833 570 818 584 806" fill="none" stroke="#e03020" stroke-width="5" filter="url(#blur2)"/>
</g>
<rect x="531" y="783" width="108" height="75" fill="none" stroke="#333" stroke-width="0.8"/>
<rect x="648" y="783" width="10" height="75" fill="url(#cbar)" stroke="#333" stroke-width="0.6"/>
<g font-size="9" fill="#1a1a1a"><text x="662" y="788">90</text><text x="662" y="806">75</text><text x="662" y="824">40</text><text x="662" y="842">20</text><text x="662" y="860">0</text></g>
<text transform="translate(680,820) rotate(90)" text-anchor="middle" font-size="9" fill="#1a1a1a">opnom</text>
<text transform="translate(519,820) rotate(-90)" text-anchor="middle" font-size="10" fill="#1a1a1a">Flow (mine)</text>
<text x="590" y="873" text-anchor="middle" font-size="11" fill="#1a1a1a">Temperature →</text>

<!-- CQA -->
<rect x="929" y="755" width="251" height="125" rx="10" fill="#ffffff" stroke="#23313f" stroke-width="1.8"/>
<text x="1055" y="777" text-anchor="middle" font-size="15.5" font-weight="bold" fill="#1a1a1a">Critical quality attributes</text>
<circle cx="972" cy="812" r="27" fill="#1d4466"/>
<g fill="#ffffff"><circle cx="963" cy="800" r="2.5"/><circle cx="975" cy="797" r="1.5"/><circle cx="984" cy="805" r="2"/><circle cx="969" cy="811" r="4"/><circle cx="982" cy="818" r="3"/><circle cx="959" cy="818" r="2"/><circle cx="972" cy="826" r="2.5"/><circle cx="987" cy="828" r="1.5"/><circle cx="956" cy="806" r="1.5"/></g>
<circle cx="1053" cy="812" r="27" fill="#1d4466"/>
<path d="M1053 791 Q1065 808 1065 818 A12 12 0 0 1 1041 818 Q1041 808 1053 791Z" fill="#a9d2ee"/>
<circle cx="1134" cy="812" r="27" fill="#1d4466"/>
<polygon points="1134,812 1161,812 1152,832 1134,839" fill="#8a9aa8"/>
<g fill="#ffffff"><circle cx="1128" cy="800" r="6"/><circle cx="1145" cy="803" r="4"/><circle cx="1122" cy="818" r="5"/><circle cx="1140" cy="820" r="7"/><circle cx="1134" cy="834" r="3"/></g>
<g font-size="14" fill="#1a1a1a" text-anchor="middle"><text x="972" y="856">Particle</text><text x="972" y="871">size</text><text x="1053" y="856">Moisture</text><text x="1053" y="871">content</text><text x="1134" y="856">Morphology</text></g>
</svg>
</body></html>
